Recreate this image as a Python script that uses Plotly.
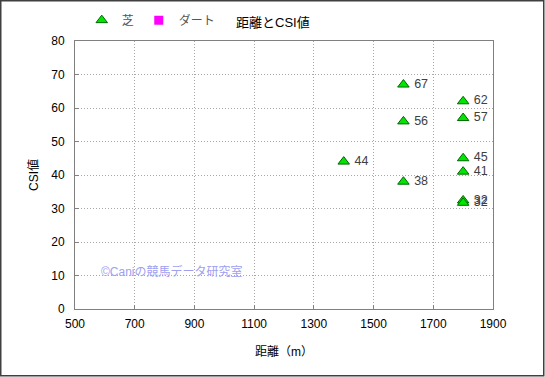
import plotly.graph_objects as go

distance = [1400, 1600, 1600, 1600, 1800, 1800, 1800, 1800, 1800, 1800]
csi = [44, 67, 56, 38, 62, 57, 45, 41, 32.4, 31.7]
labels = [f" {round(v)}" for v in csi]

x_ticks = [500, 700, 900, 1100, 1300, 1500, 1700, 1900]
y_ticks = [0, 10, 20, 30, 40, 50, 60, 70, 80]

FONT = "Liberation Sans, Noto Sans CJK JP, sans-serif"
W, H = 545, 377
L, R, T, B = 75, 52, 41, 68
PW, PH = W - L - R, H - T - B

fig = go.Figure()
fig.add_trace(go.Scatter(
    x=distance, y=csi, mode="markers+text", name="芝",
    text=labels, textposition="middle right",
    textfont=dict(size=12.5, color="#404040", family=FONT),
    marker=dict(symbol="triangle-up", size=10, color="#00e600",
                line=dict(color="#006600", width=1)),
    cliponaxis=False,
))
fig.add_trace(go.Scatter(
    x=[None], y=[None], mode="markers", name="ダート",
    marker=dict(symbol="square", size=9, color="#ff00ff",
                line=dict(color="#ff00ff", width=0)),
))

fig.add_annotation(
    text="©Caniの競馬データ研究室", xref="paper", yref="paper",
    x=(99 - L) / PW, y=(H - B - 271) / PH, xanchor="left", yanchor="middle", showarrow=False,
    font=dict(size=12, color="#a0a0f0", family=FONT),
)
fig.add_annotation(
    text="距離とCSI値", xref="paper", yref="paper",
    x=(273 - L) / PW, y=(H - B - 22) / PH, xanchor="center", yanchor="middle", showarrow=False,
    font=dict(size=13, color="black", family=FONT),
)

fig.update_layout(
    width=W, height=H,
    margin=dict(l=L, r=R, t=T, b=B),
    paper_bgcolor="white", plot_bgcolor="white",
    font=dict(family=FONT, size=12, color="black"),
    showlegend=True,
    legend=dict(orientation="h", x=0.15, y=0.985, xref="container", yref="container",
                xanchor="left", yanchor="top", itemwidth=30,
                font=dict(size=12, color="#555555", family=FONT),
                bgcolor="rgba(0,0,0,0)", tracegroupgap=0),
    xaxis=dict(range=[500, 1900], tickvals=x_ticks, ticks="inside", ticklen=4,
               tickcolor="#808080", showgrid=True, gridcolor="#a8a8a8", griddash="1px,2px",
               gridwidth=1, showline=True, linecolor="#808080", linewidth=1, mirror=True,
               zeroline=False, tickfont=dict(size=12, color="black"), automargin=False,
               ticklabelstandoff=4,
               title=dict(text="距離（m）", font=dict(size=12, color="black"), standoff=17)),
    yaxis=dict(range=[0, 80], tickvals=y_ticks, ticks="inside", ticklen=4,
               tickcolor="#808080", showgrid=True, gridcolor="#a8a8a8", griddash="1px,2px",
               gridwidth=1, showline=True, linecolor="#808080", linewidth=1, mirror=True,
               zeroline=False, tickfont=dict(size=12, color="black"), automargin=False,
               ticklabelstandoff=7,
               title=dict(text="CSI値", font=dict(size=12, color="black"), standoff=10)),
    shapes=[dict(type="rect", xref="paper", yref="paper",
                 x0=(0.75 - L) / PW, x1=(W - 1.25 - L) / PW,
                 y0=(H - B - (H - 1.25)) / PH, y1=(H - B - 0.75) / PH,
                 line=dict(color="#404040", width=1.5))],
)

fig.write_html(
    "out.html",
    config={"displayModeBar": False},
    post_script="document.body.style.margin='0';document.body.style.overflow='hidden';",
)
